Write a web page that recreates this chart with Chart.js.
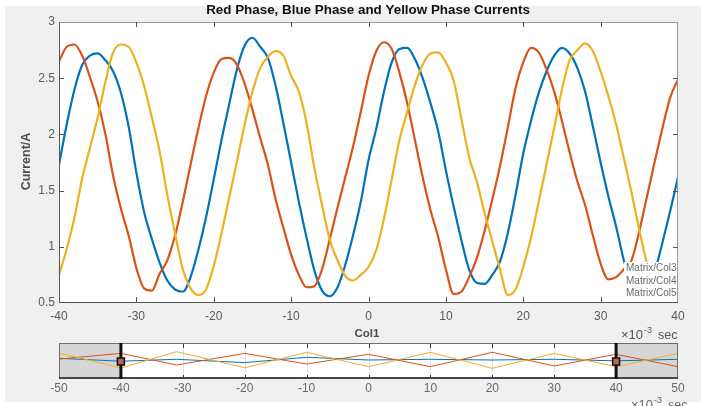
<!DOCTYPE html>
<html><head><meta charset="utf-8">
<script src="https://cdn.jsdelivr.net/npm/chart.js@4.4.0/dist/chart.umd.min.js"></script>
<style>
html,body{margin:0;padding:0;background:#fff;overflow:hidden}
#wrap{position:relative;width:701px;height:406px}
#main{position:absolute;left:0;top:0}
#nav{position:absolute;left:0;top:330px}
</style></head><body>
<div id="wrap"><canvas id="main" width="701" height="406"></canvas><canvas id="nav" width="701" height="76"></canvas></div>
<script>
// ---------- data (time in ms, currents in A) ----------
const timeMs = [-40,-39,-38,-37,-36,-35,-34,-33,-32,-31,-30,-29,-28,-27,-26,-25,-24,-23,-22,-21,-20,-19,-18,-17,-16,-15,-14,-13,-12,-11,-10,-9,-8,-7,-6,-5,-4,-3,-2,-1,0,1,2,3,4,5,6,7,8,9,10,11,12,13,14,15,16,17,18,19,20,21,22,23,24,25,26,27,28,29,30,31,32,33,34,35,36,37,38,39,40];
const col3Blue = [1.73,2.09,2.40,2.62,2.70,2.72,2.66,2.56,2.37,2.07,1.66,1.31,1.07,0.86,0.70,0.62,0.60,0.73,0.97,1.26,1.60,1.95,2.27,2.58,2.79,2.86,2.78,2.68,2.43,2.10,1.75,1.40,1.08,0.79,0.61,0.56,0.64,0.84,1.10,1.40,1.77,2.05,2.38,2.64,2.76,2.77,2.67,2.50,2.28,2.03,1.68,1.36,1.06,0.80,0.68,0.67,0.75,0.87,1.12,1.46,1.83,2.12,2.37,2.56,2.70,2.77,2.72,2.59,2.38,2.07,1.75,1.45,1.18,0.88,0.66,0.58,0.62,0.78,1.04,1.32,1.62];
const col4Red = [2.65,2.78,2.80,2.70,2.51,2.29,2.00,1.63,1.34,1.10,0.81,0.63,0.61,0.76,0.88,1.10,1.40,1.73,2.05,2.34,2.55,2.67,2.68,2.62,2.45,2.22,1.97,1.73,1.42,1.17,0.93,0.75,0.64,0.65,0.80,1.07,1.35,1.62,1.89,2.20,2.52,2.74,2.82,2.76,2.55,2.28,1.95,1.62,1.33,1.09,0.80,0.58,0.60,0.73,0.90,1.14,1.42,1.72,2.06,2.41,2.64,2.77,2.73,2.58,2.38,2.12,1.84,1.58,1.37,1.10,0.85,0.71,0.73,0.80,0.88,1.14,1.45,1.76,2.06,2.33,2.49];
const col5Yellow = [0.75,0.98,1.26,1.61,1.88,2.15,2.47,2.73,2.80,2.78,2.64,2.43,2.15,1.85,1.46,1.12,0.80,0.63,0.57,0.62,0.83,1.12,1.44,1.76,2.09,2.38,2.59,2.69,2.74,2.70,2.52,2.38,2.10,1.70,1.37,1.06,0.88,0.74,0.70,0.75,0.82,0.97,1.25,1.60,1.95,2.20,2.44,2.62,2.72,2.73,2.64,2.48,2.14,1.80,1.58,1.30,1.05,0.80,0.57,0.62,0.82,1.08,1.40,1.73,2.06,2.40,2.66,2.75,2.81,2.74,2.56,2.34,2.09,1.79,1.48,1.15,0.85,0.65,0.56,0.58,0.72];
const xTicks = [-40,-30,-20,-10,0,10,20,30,40];
const yTicks = [0.5,1,1.5,2,2.5,3];
const seriesNames = ['Matrix/Col3','Matrix/Col4','Matrix/Col5'];
const titleText = 'Red Phase, Blue Phase and Yellow Phase Currents';
const xLabel = 'Col1';
const yLabel = 'Current/A';
// overview (navigator) strip
const navTime = [-50,-40,-31,-20,-10,0,10,20,30,40,50];
const navCol3 = [1.91,1.50,1.77,1.30,2.05,1.67,1.77,1.67,1.77,1.55,1.77];
const navCol4 = [1.80,2.60,0.97,2.60,1.10,2.47,0.73,2.75,0.83,2.47,0.73];
const navCol5 = [2.65,0.55,2.84,0.58,2.75,0.73,2.75,0.50,2.60,0.73,2.60];
const navTicks = [-50,-40,-30,-20,-10,0,10,20,30,40,50];
const navWindow = [-40,40];

const FONT = '"Liberation Sans", Arial, sans-serif';
const C_BLUE = '#0072BD', C_RED = '#D95319', C_YEL = '#EDB120';

function pts(xs, ys){ return xs.map((x,i)=>({x:x, y:ys[i]})); }

function drawExponent(c, x, yBase, color){
  c.fillStyle = color;
  c.textAlign = 'left'; c.textBaseline = 'alphabetic';
  c.font = '13px ' + FONT;
  c.fillText('\u00d710', x, yBase);
  c.font = '9px ' + FONT;
  c.fillText('-3', x + 23, yBase - 6);
  c.font = '12.5px ' + FONT;
  c.fillText('sec', x + 37, yBase);
}

const mainDecor = {
  id:'mainDecor',
  beforeDraw(chart){
    const c = chart.ctx, a = chart.chartArea;
    c.save();
    c.fillStyle = '#ffffff'; c.fillRect(0,0,chart.width,chart.height);
    c.fillStyle = '#f0f0f0'; c.fillRect(5,6,chart.width-5,396);
    c.fillStyle = '#ffffff'; c.fillRect(a.left,a.top,a.right-a.left,a.bottom-a.top);
    c.restore();
  },
  afterDatasetsDraw(chart){
    const c = chart.ctx, a = chart.chartArea;
    const xs = chart.scales.x, ys = chart.scales.y;
    c.save();
    // legend box (white, covers lines)
    const lx = 624, ly = 262;
    c.fillStyle = '#ffffff';
    c.fillRect(lx, ly, a.right - lx, a.bottom - ly);
    c.fillStyle = '#6a6a6a';
    c.font = '10px ' + FONT;
    c.textBaseline = 'middle'; c.textAlign = 'left';
    seriesNames.forEach((n,i)=>{ c.fillText(n, lx+2, ly+6.5+i*12.3); });
    // axes box
    c.lineWidth = 1;
    c.strokeStyle = '#9a9a9a';
    c.beginPath(); c.moveTo(a.left, a.top+0.5); c.lineTo(a.right, a.top+0.5);
    c.moveTo(a.right-0.5, a.top); c.lineTo(a.right-0.5, a.bottom); c.stroke();
    c.strokeStyle = '#555555';
    c.beginPath(); c.moveTo(a.left+0.5, a.top); c.lineTo(a.left+0.5, a.bottom);
    c.moveTo(a.left, a.bottom-0.5); c.lineTo(a.right, a.bottom-0.5); c.stroke();
    // inward tick marks
    c.strokeStyle = '#555555';
    c.beginPath();
    xTicks.slice(1,-1).forEach(v=>{
      const px = Math.round(xs.getPixelForValue(v)) + 0.5;
      c.moveTo(px, a.bottom); c.lineTo(px, a.bottom-6);
      c.moveTo(px, a.top); c.lineTo(px, a.top+5);
    });
    yTicks.slice(1,-1).forEach(v=>{
      const py = Math.round(ys.getPixelForValue(v)) + 0.5;
      c.moveTo(a.left, py); c.lineTo(a.left+5, py);
      c.moveTo(a.right, py); c.lineTo(a.right-5, py);
    });
    c.stroke();
    c.restore();
  },
  afterDraw(chart){
    const c = chart.ctx, a = chart.chartArea;
    c.save();
    c.fillStyle = '#111111';
    c.font = 'bold 13.4px ' + FONT;
    c.textAlign = 'center'; c.textBaseline = 'middle';
    c.fillText(titleText, 368, 10);
    c.fillStyle = '#4d4d4d';
    c.font = 'bold 11.5px ' + FONT;
    c.fillText(xLabel, 367, 334);
    c.save();
    c.translate(27, (a.top+a.bottom)/2 - 1);
    c.rotate(-Math.PI/2);
    c.font = 'bold 12.5px ' + FONT;
    c.fillText(yLabel, 0, 0);
    c.restore();
    drawExponent(c, 621, 339, '#555555');
    c.restore();
  }
};

new Chart(document.getElementById('main'), {
  type:'line',
  data:{ datasets:[
    {label:seriesNames[0], data:pts(timeMs,col3Blue), borderColor:C_BLUE, order:2},
    {label:seriesNames[1], data:pts(timeMs,col4Red), borderColor:C_RED, order:1},
    {label:seriesNames[2], data:pts(timeMs,col5Yellow), borderColor:C_YEL, order:0}
  ]},
  options:{
    responsive:false, animation:false, devicePixelRatio:1,
    elements:{point:{radius:0}, line:{borderWidth:2.2, cubicInterpolationMode:'monotone'}},
    layout:{padding:{left:0,right:23,top:22,bottom:83}},
    plugins:{legend:{display:false}, tooltip:{enabled:false}, title:{display:false}},
    scales:{
      x:{type:'linear', min:-40, max:40,
         afterBuildTicks:s=>{ s.ticks = xTicks.map(v=>({value:v})); },
         afterFit:s=>{ s.height = 20; },
         grid:{display:false, drawTicks:false}, border:{display:false},
         ticks:{color:'#5a5a5a', font:{family:FONT, size:12}, padding:6, maxRotation:0, autoSkip:false, callback:v=>String(v)}},
      y:{type:'linear', min:0.5, max:3,
         afterBuildTicks:s=>{ s.ticks = yTicks.map(v=>({value:v})); },
         afterFit:s=>{ s.width = 59; },
         grid:{display:false, drawTicks:false}, border:{display:false},
         ticks:{color:'#5a5a5a', font:{family:FONT, size:12}, padding:4, autoSkip:false, callback:v=>String(v)}}
    }
  },
  plugins:[mainDecor]
});

const navDecor = {
  id:'navDecor',
  beforeDatasetsDraw(chart){
    const c = chart.ctx, a = chart.chartArea, xs = chart.scales.x;
    c.save();
    c.fillStyle = '#ffffff'; c.fillRect(a.left,a.top,a.right-a.left,a.bottom-a.top);
    const w0 = xs.getPixelForValue(navWindow[0]), w1 = xs.getPixelForValue(navWindow[1]);
    c.fillStyle = '#d6d6d6';
    c.fillRect(a.left, a.top, w0-a.left, a.bottom-a.top);
    c.fillRect(w1, a.top, a.right-w1, a.bottom-a.top);
    c.strokeStyle = '#e2e2e2'; c.lineWidth = 1;
    c.beginPath();
    navTicks.slice(1,-1).forEach(v=>{
      const px = Math.round(xs.getPixelForValue(v)) + 0.5;
      c.moveTo(px, a.top); c.lineTo(px, a.bottom);
    });
    c.stroke();
    c.strokeStyle = '#333333';
    c.beginPath();
    navTicks.slice(1,-1).forEach(v=>{
      const px = Math.round(xs.getPixelForValue(v)) + 0.5;
      c.moveTo(px, a.top); c.lineTo(px, a.top+5);
      c.moveTo(px, a.bottom); c.lineTo(px, a.bottom-4);
    });
    c.stroke();
    c.restore();
  },
  afterDatasetsDraw(chart){
    const c = chart.ctx, a = chart.chartArea, xs = chart.scales.x;
    c.save();
    c.strokeStyle = '#6e6e6e'; c.lineWidth = 1;
    c.strokeRect(a.left+0.5, a.top+0.5, a.right-a.left-1, a.bottom-a.top-1);
    c.strokeStyle = '#444444'; c.lineWidth = 2;
    c.beginPath(); c.moveTo(a.left, a.bottom-1); c.lineTo(a.right, a.bottom-1); c.stroke();
    navWindow.forEach(v=>{
      const px = xs.getPixelForValue(v);
      c.strokeStyle = '#111111'; c.lineWidth = 3;
      c.beginPath(); c.moveTo(px, a.top); c.lineTo(px, a.bottom); c.stroke();
      const my = (a.top+a.bottom)/2 + 0.5;
      c.fillStyle = '#c2605d';
      c.fillRect(px-3.5, my-3.5, 7, 7);
      c.strokeStyle = '#111111'; c.lineWidth = 1.5;
      c.strokeRect(px-3.5, my-3.5, 7, 7);
    });
    c.restore();
  },
  afterDraw(chart){
    const c = chart.ctx;
    c.save();
    drawExponent(c, 631, 79, '#666666');
    c.restore();
  }
};

new Chart(document.getElementById('nav'), {
  type:'line',
  data:{ datasets:[
    {label:seriesNames[0], data:pts(navTime,navCol3), borderColor:C_BLUE, order:2},
    {label:seriesNames[1], data:pts(navTime,navCol4), borderColor:C_RED, order:1},
    {label:seriesNames[2], data:pts(navTime,navCol5), borderColor:C_YEL, order:0}
  ]},
  options:{
    responsive:false, animation:false, devicePixelRatio:1,
    elements:{point:{radius:0}, line:{borderWidth:1, tension:0}},
    layout:{padding:{left:59,right:23,top:13,bottom:7}},
    plugins:{legend:{display:false}, tooltip:{enabled:false}},
    scales:{
      x:{type:'linear', min:-50, max:50,
         afterBuildTicks:s=>{ s.ticks = navTicks.map(v=>({value:v})); },
         afterFit:s=>{ s.height = 20; },
         grid:{display:false, drawTicks:false}, border:{display:false},
         ticks:{color:'#6a6a6a', font:{family:FONT, size:12}, padding:2, maxRotation:0, autoSkip:false, callback:v=>String(v)}},
      y:{display:false, min:-1.0, max:4.06}
    }
  },
  plugins:[navDecor]
});
</script>
</body></html>
